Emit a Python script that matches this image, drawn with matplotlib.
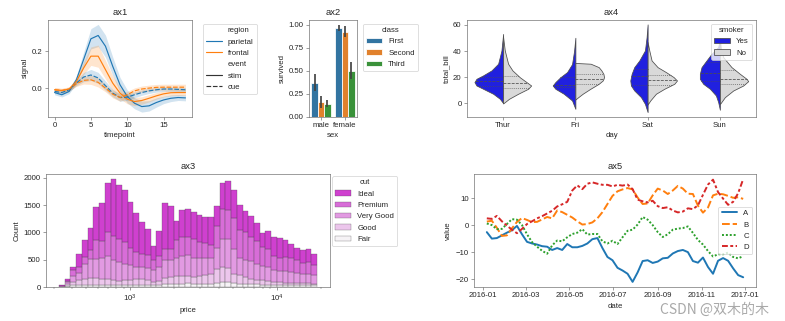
import numpy as np
import matplotlib
matplotlib.use("Agg")
import matplotlib.pyplot as plt
import matplotlib.dates as mdates
from matplotlib.lines import Line2D
from matplotlib.patches import Patch
import seaborn as sns

sns.set_style("ticks")
plt.rcParams["font.family"] = ["Liberation Sans", "DejaVu Sans"]
plt.rcParams.update({
    "axes.edgecolor": ".4",
    "xtick.color": ".4", "ytick.color": ".4",
    "xtick.labelcolor": ".15", "ytick.labelcolor": ".15",
})

# ---------------- ax1 : fmri signal ----------------
timepoint = np.arange(19)
parietal_stim = [-0.024, -0.036, -0.018, 0.045, 0.155, 0.267, 0.285, 0.227, 0.118, 0.018,
                 -0.045, -0.082, -0.100, -0.096, -0.078, -0.064, -0.055, -0.051, -0.053]
parietal_stim_ci = [0.012, 0.012, 0.012, 0.02, 0.04, 0.055, 0.06, 0.06, 0.05, 0.04,
                    0.035, 0.03, 0.03, 0.028, 0.025, 0.02, 0.018, 0.016, 0.016]
frontal_stim = [-0.009, -0.013, -0.005, 0.036, 0.109, 0.173, 0.173, 0.100, 0.027, -0.027,
                -0.060, -0.073, -0.067, -0.055, -0.042, -0.031, -0.025, -0.024, -0.024]
frontal_stim_ci = [0.012, 0.012, 0.012, 0.018, 0.035, 0.05, 0.06, 0.05, 0.04, 0.03,
                   0.025, 0.022, 0.02, 0.02, 0.018, 0.016, 0.016, 0.016, 0.016]
parietal_cue = [-0.018, -0.024, -0.009, 0.027, 0.060, 0.071, 0.055, 0.013, -0.027, -0.051,
                -0.049, -0.036, -0.024, -0.015, -0.009, -0.005, -0.005, -0.007, -0.009]
parietal_cue_ci = [0.01, 0.01, 0.01, 0.015, 0.025, 0.03, 0.03, 0.025, 0.02, 0.02,
                   0.018, 0.016, 0.015, 0.014, 0.013, 0.012, 0.012, 0.012, 0.012]
frontal_cue = [-0.009, -0.013, -0.005, 0.024, 0.042, 0.045, 0.031, 0.000, -0.033, -0.051,
               -0.036, -0.015, -0.005, 0.000, 0.004, 0.005, 0.005, 0.005, 0.005]
frontal_cue_ci = [0.01, 0.01, 0.01, 0.015, 0.02, 0.025, 0.025, 0.02, 0.02, 0.02,
                  0.018, 0.016, 0.016, 0.016, 0.016, 0.016, 0.016, 0.016, 0.016]

# ---------------- ax2 : titanic survival ----------------
sexes = ["male", "female"]
classes = ["First", "Second", "Third"]
survived_first = [0.369, 0.968]
survived_second = [0.157, 0.921]
survived_third = [0.135, 0.500]
ci_first = [(0.28, 0.46), (0.93, 1.00)]
ci_second = [(0.09, 0.22), (0.86, 0.98)]
ci_third = [(0.10, 0.18), (0.41, 0.59)]

# ---------------- ax3 : diamonds price histogram ----------------
cuts = ["Ideal", "Premium", "Very Good", "Good", "Fair"]
price_min, price_max, n_bins = 326, 18823, 45
count_ideal = [12, 31, 62, 233, 318, 416, 600, 686, 900, 1034, 979, 949, 839, 703, 582,
               472, 257, 459, 826, 777, 355, 490, 503, 490, 490, 477, 520, 367, 477, 538,
               520, 459, 379, 379, 337, 258, 325, 355, 349, 306, 257, 214, 233, 233, 214]
count_premium = [10, 25, 110, 110, 134, 159, 336, 306, 446, 434, 428, 397, 324, 276, 245,
                 226, 184, 196, 214, 214, 318, 354, 336, 349, 288, 270, 227, 392, 533, 533,
                 551, 501, 508, 447, 410, 354, 330, 257, 245, 263, 252, 245, 208, 214, 184]
count_very_good = [7, 35, 104, 134, 264, 349, 355, 385, 416, 379, 349, 306, 263, 220, 220,
                   232, 214, 257, 319, 306, 330, 367, 386, 348, 343, 323, 305, 385, 519, 520,
                   471, 324, 318, 318, 293, 258, 257, 214, 208, 208, 195, 184, 166, 178, 152]
count_good = [5, 35, 62, 93, 118, 125, 122, 110, 104, 80, 67, 83, 98, 110, 110,
              86, 62, 70, 110, 123, 147, 135, 121, 129, 134, 154, 172, 257, 276, 270,
              163, 154, 129, 103, 87, 77, 65, 49, 46, 40, 43, 38, 34, 34, 31]
count_fair = [3, 15, 30, 30, 35, 40, 43, 43, 43, 43, 43, 40, 37, 37, 37,
              37, 30, 40, 61, 61, 61, 61, 74, 61, 61, 61, 61, 80, 92, 85,
              70, 61, 55, 50, 48, 45, 45, 43, 40, 40, 37, 35, 33, 33, 31]

# ---------------- ax4 : tips violins (half outlines) ----------------
days = ["Thur", "Fri", "Sat", "Sun"]
thur_yes_y = [0.3, 1, 3.6, 7.4, 11.2, 13.7, 16.3, 18.8, 21.4, 25.2, 30.3, 40.4, 53]
thur_yes_w = [0, .01, .046, .138, .277, .369, .397, .369, .277, .161, .069, .023, 0]
thur_no_y = [0.0, 3.6, 7.4, 11.2, 13.7, 16.3, 20, 25.2, 30.3, 40.4, 50.6]
thur_no_w = [0, .083, .208, .346, .388, .323, .231, .129, .069, .023, 0]
fri_yes_y = [-4.1, 2.3, 7.4, 11.2, 13.7, 16.3, 20, 23.9, 30, 40, 50.1]
fri_yes_w = [0, .046, .161, .277, .314, .277, .208, .115, .046, .018, 0]
fri_no_y = [3.0, 4.3, 7.4, 11.2, 15, 17.5, 20, 22.6, 25.2, 27.7, 30.3, 30.9]
fri_no_w = [0, .028, .101, .208, .323, .378, .397, .388, .36, .323, .212, 0]
sat_yes_y = [-6.6, -0.3, 4.8, 9.9, 13.7, 17.5, 22.6, 27.7, 32.8, 40.4, 50.6, 60.3]
sat_yes_w = [0, .037, .092, .185, .231, .24, .221, .185, .115, .037, .014, 0]
sat_no_y = [-0.8, 2.3, 7.4, 11.2, 15, 17.5, 20.1, 23.9, 27.7, 32.8, 40.4, 46.8]
sat_no_w = [0, .037, .115, .231, .369, .406, .36, .254, .138, .055, .023, 0]
sun_yes_y = [-4.8, 1, 6.1, 11.2, 15, 18.8, 22.6, 27.7, 32.8, 37.9, 43, 49]
sun_yes_w = [0, .023, .055, .138, .231, .277, .277, .254, .185, .115, .023, 0]
sun_no_y = [-0.5, 4.8, 9.9, 13.7, 17, 18.8, 22.6, 27.7, 35.3, 41.7, 50]
sun_no_w = [0, .069, .185, .323, .392, .369, .277, .161, .046, .014, 0]
# quartiles (q1, median, q3)
quart_yes = [(13.5, 16.8, 20.1), (12.2, 13.9, 19.8), (13.7, 20.6, 26.4), (17.2, 23.1, 31.8)]
quart_no = [(11.7, 15.5, 20.6), (15.2, 19.0, 22.8), (14.3, 17.8, 21.5), (14.9, 18.5, 25.2)]

# ---------------- ax5 : wide-form random walks ----------------
first_date = np.datetime64("2016-01-07")
step_days = 7
walk_a = [-2.6, -5.0, -4.8, -3.8, -2.8, -1.9, -0.3, -3.4, -6.2, -6.8, -7.2, -7.8, -8.0,
          -9.2, -8.5, -9.2, -7.0, -8.2, -8.2, -7.7, -6.8, -5.2, -4.8, -8.5, -11.8, -13.0,
          -15.8, -16.8, -18.0, -21.0, -17.5, -13.3, -13.0, -14.0, -13.5, -12.3, -12.1, -10.5,
          -9.6, -9.2, -10.0, -13.3, -13.9, -12.0, -15.5, -18.0, -13.2, -12.2, -13.2, -16.0,
          -18.5, -19.3]
walk_b = [1.3, 1.6, -1.0, -4.0, -3.8, -1.2, 1.2, 2.6, 1.9, 1.1, 1.2, 2.1, 3.0,
          2.5, 5.4, 4.8, 3.8, 2.8, 1.4, 0.2, 0.4, 1.0, 2.5, 4.8, 7.8, 10.8,
          12.5, 13.2, 13.7, 13.2, 10.2, 7.8, 8.0, 11.0, 13.5, 12.8, 11.5, 12.8,
          14.5, 13.5, 11.6, 11.5, 7.2, 4.6, 6.5, 11.0, 11.6, 11.4, 10.8, 10.1,
          10.3, 9.7]
walk_c = [0.6, 0.0, -1.5, -1.4, 0.4, 2.2, 2.0, 0.0, -3.4, -6.3, -8.0, -9.5, -10.6,
          -7.5, -5.7, -6.0, -4.5, -3.3, -2.8, -1.5, -3.5, -3.3, -3.3, -6.0, -6.8, -5.8,
          -7.0, -4.5, -2.1, -1.7, 0.2, 3.0, 2.0, 0.0, -2.6, -4.4, -3.4, -1.7,
          -1.3, -1.1, -0.5, -2.9, -5.5, -7.2, -9.6, -11.6, -10.8, -10.8, -10.2, -11.8,
          -12.3, -11.5]
walk_d = [2.5, 2.3, 3.4, 1.4, -0.2, -1.7, -3.0, -1.4, 0.4, 1.4, 2.5, 3.3, 4.3,
          5.3, 6.9, 7.7, 8.6, 12.8, 14.7, 13.3, 15.3, 15.8, 15.3, 14.9, 14.9, 14.3,
          14.9, 14.6, 15.0, 13.3, 9.4, 8.8, 8.4, 9.0, 7.0, 6.3, 6.6, 5.4,
          4.7, 5.0, 6.2, 5.9, 7.3, 11.2, 15.0, 16.8, 12.2, 9.8, 7.5, 8.6,
          11.8, 17.0]

BLUE, ORANGE, GREEN, RED = "#1f77b4", "#ff7f0e", "#2ca02c", "#d62728"

W, H, DPI = 785, 321, 56
fig = plt.figure(figsize=(W / DPI, H / DPI), dpi=DPI)


def box(left, top, right, bottom):
    return [left / W, 1 - bottom / H, (right - left) / W, (bottom - top) / H]


# ---- ax1
ax1 = fig.add_axes(box(48, 20, 192, 116.5))
lines1 = [(parietal_stim, parietal_stim_ci, BLUE, None),
          (frontal_stim, frontal_stim_ci, ORANGE, None),
          (parietal_cue, parietal_cue_ci, BLUE, (4, 1.5)),
          (frontal_cue, frontal_cue_ci, ORANGE, (4, 1.5))]
for mean, ci, color, dash in lines1:
    mean, ci = np.array(mean), np.array(ci)
    ax1.fill_between(timepoint, mean - ci, mean + ci, color=color, alpha=0.2, linewidth=0)
    ln, = ax1.plot(timepoint, mean, color=color, lw=1.5)
    if dash:
        ln.set_dashes(dash)
ax1.set_xticks([0, 5, 10, 15])
ax1.set_yticks([0.0, 0.2])
ax1.set_xlabel("timepoint")
ax1.set_ylabel("signal")
ax1.set_title("ax1")
blank = Line2D([], [], color="none")
h1 = [blank, Line2D([], [], color=BLUE, lw=1.5), Line2D([], [], color=ORANGE, lw=1.5),
      blank, Line2D([], [], color=".2", lw=1.5), Line2D([], [], color=".2", lw=1.5, dashes=(4, 1.5))]
ax1.legend(h1, ["region", "parietal", "frontal", "event", "stim", "cue"],
           bbox_to_anchor=(1.05, 1), loc="upper left")

# ---- ax2
ax2 = fig.add_axes(box(309, 20, 357, 116.5))
bar_colors = ["#3274a1", "#e1812c", "#3a923a"]
bar_w = 0.8 / 3
xpos = np.arange(len(sexes))
for k, (vals, cis) in enumerate([(survived_first, ci_first), (survived_second, ci_second),
                                 (survived_third, ci_third)]):
    xs = xpos + (k - 1) * bar_w
    ax2.bar(xs, vals, width=bar_w, color=bar_colors[k], label=classes[k])
    for x, (lo, hi) in zip(xs, cis):
        ax2.plot([x, x], [lo, hi], color=".26", lw=2.2, solid_capstyle="butt")
ax2.set_xlim(-0.5, 1.5)
ax2.set_xticks(xpos)
ax2.set_xticklabels(sexes)
ax2.set_yticks([0, 0.25, 0.5, 0.75, 1.0])
ax2.set_xlabel("sex")
ax2.set_ylabel("survived")
ax2.set_title("ax2")
ax2.legend(title="class", bbox_to_anchor=(1.05, 1), loc="upper left")

# ---- ax3
ax3 = fig.add_axes(box(46, 174, 330, 287))
edges = np.logspace(np.log10(price_min), np.log10(price_max), n_bins + 1)
hist_colors = sns.color_palette("light:m_r", len(cuts))
layers = [count_ideal, count_premium, count_very_good, count_good, count_fair]
bottom = np.zeros(n_bins)
handles3 = []
for cut, counts, color in reversed(list(zip(cuts, layers, hist_colors))):
    counts = np.array(counts, dtype=float)
    bars = ax3.bar(edges[:-1], counts, width=np.diff(edges), bottom=bottom, align="edge",
                   color=color, edgecolor=".3", linewidth=0.5, alpha=0.75, label=cut)
    handles3.append(bars)
    bottom += counts
ax3.set_xscale("log")
ax3.set_yticks([0, 500, 1000, 1500, 2000])
ax3.set_xlabel("price")
ax3.set_ylabel("Count")
ax3.set_title("ax3")
ax3.legend(handles3[::-1], cuts, title="cut", bbox_to_anchor=(1.0, 1.0), loc="upper left",
           borderaxespad=0.3)

# ---- ax4
ax4 = fig.add_axes(box(467, 20, 756, 116.5))
yes_color = sns.desaturate("b", 0.75)
no_color = ".85"
outlines = [(thur_yes_y, thur_yes_w, thur_no_y, thur_no_w),
            (fri_yes_y, fri_yes_w, fri_no_y, fri_no_w),
            (sat_yes_y, sat_yes_w, sat_no_y, sat_no_w),
            (sun_yes_y, sun_yes_w, sun_no_y, sun_no_w)]


def half_violin(ax, pos, ys, ws, side, color, quarts):
    ys, ws = np.asarray(ys), np.asarray(ws)
    ax.fill_betweenx(ys, pos, pos + side * ws, facecolor=color, edgecolor=".3", linewidth=1)
    for q, ls in zip(quarts, [":", "--", ":"]):
        w = np.interp(q, ys, ws)
        ax.plot([pos, pos + side * w], [q, q], color=".3", linestyle=ls, linewidth=1)


for i, (yy, yw, ny, nw) in enumerate(outlines):
    half_violin(ax4, i, yy, yw, -1, yes_color, quart_yes[i])
    half_violin(ax4, i, ny, nw, 1, no_color, quart_no[i])
ax4.set_xlim(-0.5, 3.5)
ax4.set_xticks(range(len(days)))
ax4.set_xticklabels(days)
ax4.set_yticks([0, 20, 40, 60])
ax4.set_xlabel("day")
ax4.set_ylabel("total_bill")
ax4.set_title("ax4")
ax4.legend([Patch(facecolor=yes_color, edgecolor=".3"), Patch(facecolor=no_color, edgecolor=".3")],
           ["Yes", "No"], title="smoker", loc="upper right")

# ---- ax5
ax5 = fig.add_axes(box(474, 174, 756, 287))
dates = first_date + (np.arange(len(walk_a)) * step_days).astype("timedelta64[D]")
ax5.plot(dates, walk_a, color=BLUE, lw=2.5, label="A")
ax5.plot(dates, walk_b, color=ORANGE, lw=2.5, dashes=(4, 1.5), label="B")
ax5.plot(dates, walk_c, color=GREEN, lw=2.5, dashes=(1, 1), label="C")
ax5.plot(dates, walk_d, color=RED, lw=2.5, dashes=(3, 1.25, 1.5, 1.25), label="D")
ax5.xaxis.set_major_locator(mdates.MonthLocator(bymonth=[1, 3, 5, 7, 9, 11]))
ax5.xaxis.set_major_formatter(mdates.DateFormatter("%Y-%m"))
ax5.set_yticks([-20, -10, 0, 10])
ax5.set_xlabel("date")
ax5.set_ylabel("value")
ax5.set_title("ax5")
ax5.legend(loc="center right")

fig.text(769 / W, 1 - 314 / H, "CSDN @双木的木", ha="right", va="baseline", fontsize=18,
         color="#9a9a9a", alpha=0.85, family=["Noto Sans CJK SC", "DejaVu Sans"])

fig.savefig("out.png", dpi=DPI)
